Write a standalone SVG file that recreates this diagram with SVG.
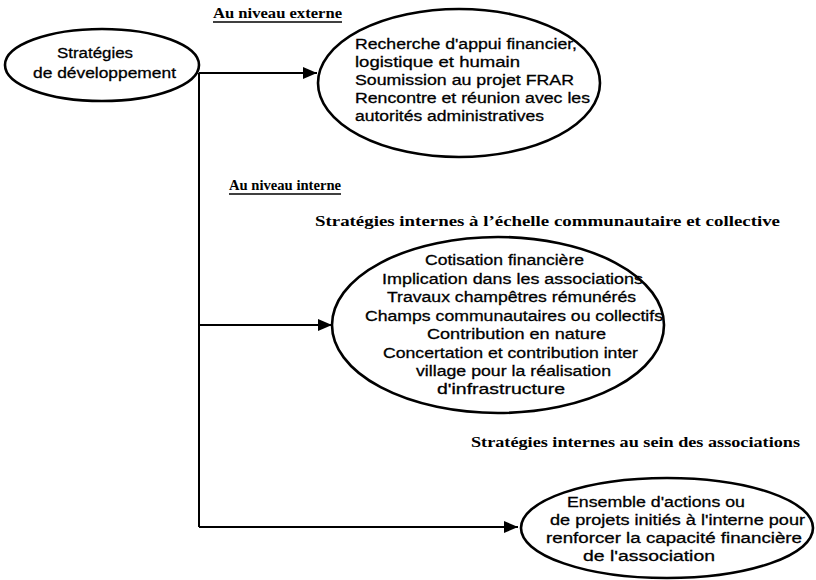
<svg xmlns="http://www.w3.org/2000/svg" width="816" height="580" viewBox="0 0 816 580">
  <style>
    .node ellipse { fill: #ffffff; stroke: #000000; stroke-width: 2.6; }
    .node text { font-family: "Liberation Sans", Arial, sans-serif; font-size: 15.5px; fill: #000000; stroke: #000000; stroke-width: 0.3; }
    .heading { font-family: "Liberation Serif", "Times New Roman", serif; font-weight: bold; font-size: 14.5px; fill: #000000; }
    .underline { stroke: #000000; stroke-width: 1.3; }
    #connectors path { fill: none; stroke: #000000; stroke-width: 2; }
  </style>
  <defs>
    <marker id="arrow" markerUnits="userSpaceOnUse" markerWidth="15" markerHeight="12" refX="14" refY="6" orient="auto">
      <path d="M0,0 L14,6 L0,12 Z" fill="#000000"/>
    </marker>
  </defs>

  <rect x="0" y="0" width="816" height="580" fill="#ffffff"/>

  <!-- section headings -->
  <g id="headings">
    <text class="heading" x="213" y="18" textLength="129" lengthAdjust="spacingAndGlyphs">Au niveau externe</text>
    <line class="underline" x1="213" y1="22" x2="342" y2="22"/>
    <text class="heading" x="229" y="190" textLength="112" lengthAdjust="spacingAndGlyphs">Au niveau interne</text>
    <line class="underline" x1="229" y1="194" x2="341" y2="194"/>
    <text class="heading" x="315" y="226" textLength="465" lengthAdjust="spacingAndGlyphs">Stratégies internes à l’échelle communautaire et collective</text>
    <text class="heading" x="471" y="447" textLength="329" lengthAdjust="spacingAndGlyphs">Stratégies internes au sein des associations</text>
  </g>

  <!-- trunk line and branches -->
  <g id="connectors">
    <path d="M199,73 L199,527"/>
    <path d="M199,73 L317,73" marker-end="url(#arrow)"/>
    <path d="M199,325 L332,325" marker-end="url(#arrow)"/>
    <path d="M199,527 L518,527" marker-end="url(#arrow)"/>
  </g>

  <g id="node-strategies" class="node">
    <ellipse cx="102" cy="65" rx="97" ry="36"/>
    <text x="57" y="58" textLength="76" lengthAdjust="spacingAndGlyphs">Stratégies</text>
    <text x="33" y="78" textLength="143" lengthAdjust="spacingAndGlyphs">de développement</text>
  </g>

  <g id="node-externe" class="node">
    <ellipse cx="459" cy="83" rx="141" ry="74"/>
    <text x="355" y="49" textLength="222" lengthAdjust="spacingAndGlyphs">Recherche d'appui financier,</text>
    <text x="355" y="67" textLength="165" lengthAdjust="spacingAndGlyphs">logistique et humain</text>
    <text x="355" y="85" textLength="219" lengthAdjust="spacingAndGlyphs">Soumission au projet FRAR</text>
    <text x="355" y="103" textLength="235" lengthAdjust="spacingAndGlyphs">Rencontre et réunion avec les</text>
    <text x="355" y="121" textLength="189" lengthAdjust="spacingAndGlyphs">autorités administratives</text>
  </g>

  <g id="node-communautaire" class="node">
    <ellipse cx="498" cy="325" rx="166" ry="88"/>
    <text x="425" y="265" textLength="159" lengthAdjust="spacingAndGlyphs">Cotisation financière</text>
    <text x="382" y="284" textLength="261" lengthAdjust="spacingAndGlyphs">Implication dans les associations</text>
    <text x="387" y="302" textLength="249" lengthAdjust="spacingAndGlyphs">Travaux champêtres rémunérés</text>
    <text x="365" y="321" textLength="298" lengthAdjust="spacingAndGlyphs">Champs communautaires ou collectifs</text>
    <text x="427" y="339" textLength="179" lengthAdjust="spacingAndGlyphs">Contribution en nature</text>
    <text x="383" y="358" textLength="255" lengthAdjust="spacingAndGlyphs">Concertation et contribution inter</text>
    <text x="416" y="376" textLength="195" lengthAdjust="spacingAndGlyphs">village pour la réalisation</text>
    <text x="437" y="394" textLength="128" lengthAdjust="spacingAndGlyphs">d'infrastructure</text>
  </g>

  <g id="node-associations" class="node">
    <ellipse cx="667" cy="528" rx="146" ry="50"/>
    <text x="567" y="507" textLength="178" lengthAdjust="spacingAndGlyphs">Ensemble d'actions ou</text>
    <text x="550" y="525" textLength="255" lengthAdjust="spacingAndGlyphs">de projets initiés à l'interne pour</text>
    <text x="546" y="543" textLength="256" lengthAdjust="spacingAndGlyphs">renforcer la capacité financière</text>
    <text x="583" y="561" textLength="132" lengthAdjust="spacingAndGlyphs">de l'association</text>
  </g>
</svg>
